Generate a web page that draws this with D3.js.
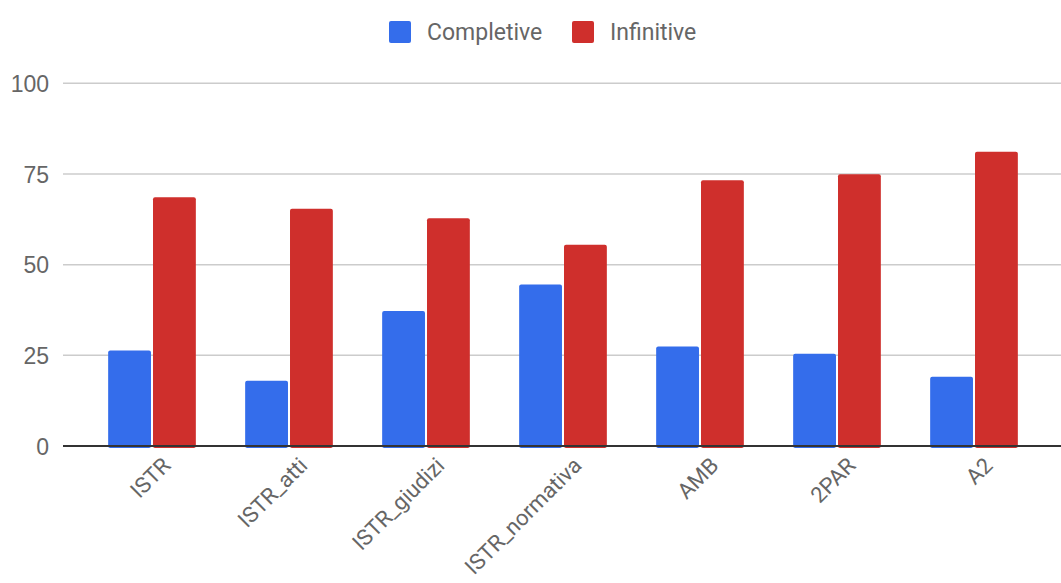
<!DOCTYPE html>
<html><head><meta charset="utf-8">
<script src="https://cdn.jsdelivr.net/npm/d3@7"></script>
<style>body{margin:0;background:#fff}svg{display:block;font-family:Roboto,"Open Sans",sans-serif}</style>
</head><body><svg id="c" width="1061" height="583"></svg>
<script>
const categories = ["ISTR","ISTR_atti","ISTR_giudizi","ISTR_normativa","AMB","2PAR","A2"];
const seriesNames = ["Completive","Infinitive"];
const completive = [26.3,18.0,37.2,44.5,27.4,25.4,19.1];
const infinitive = [68.6,65.4,62.8,55.5,73.3,74.9,81.1];
const yTicks = [0,25,50,75,100];
const colors = ["#346deb","#cf2f2c"];

const svg = d3.select("#c");
const x = d3.scaleBand().domain(categories).range([83.5,1042.5]).paddingInner(0.36).paddingOuter(0.18);
const xs = d3.scaleBand().domain(seriesNames).range([0,x.bandwidth()]).paddingInner(0.045);
const y = d3.scaleLinear().domain([0,100]).range([446,83.3]);

// gridlines
svg.append("g").selectAll("line").data(yTicks.filter(d=>d>0)).join("line")
  .attr("x1",63).attr("x2",1061).attr("y1",d=>y(d)).attr("y2",d=>y(d))
  .attr("stroke","#cccccc").attr("stroke-width",1.5);

// y labels
const yAxis = d3.axisLeft(y).tickValues(yTicks).tickSize(0).tickPadding(0);
const ga = svg.append("g").attr("transform","translate(49,0)").call(yAxis);
ga.select(".domain").remove();
ga.selectAll("text").attr("fill","#666").style("font-size","23px").attr("dy","0.36em");

// bars
const data = categories.map((c,i)=>({c, vals:[completive[i],infinitive[i]]}));
const g = svg.append("g").selectAll("g").data(data).join("g").attr("transform",d=>`translate(${x(d.c)},0)`);
g.selectAll("rect").data(d=>d.vals.map((v,j)=>({v,s:seriesNames[j],j}))).join("rect")
  .attr("x",d=>xs(d.s)).attr("width",xs.bandwidth())
  .attr("y",d=>y(d.v)).attr("height",d=>y(0)-y(d.v)+2)
  .attr("rx",2).attr("fill",d=>colors[d.j]);

// baseline
svg.append("line").attr("x1",63).attr("x2",1061).attr("y1",y(0)).attr("y2",y(0))
  .attr("stroke","#333").attr("stroke-width",2);

// x labels
svg.append("g").selectAll("text").data(categories).join("text")
  .attr("transform",d=>`translate(${x(d)+x.bandwidth()/2+9},${456}) rotate(-45)`)
  .attr("text-anchor","end").attr("dy","0.7em")
  .attr("fill","#666").style("font-size","22px").text(d=>d);

// legend
const leg = svg.append("g");
const legX = [389,572];
seriesNames.forEach((s,i)=>{
  leg.append("rect").attr("x",legX[i]).attr("y",21).attr("width",22).attr("height",22).attr("rx",2).attr("fill",colors[i]);
  leg.append("text").attr("x",legX[i]+38).attr("y",32).attr("dy","0.36em").attr("fill","#666").style("font-size","23px").text(s);
});
</script></body></html>
